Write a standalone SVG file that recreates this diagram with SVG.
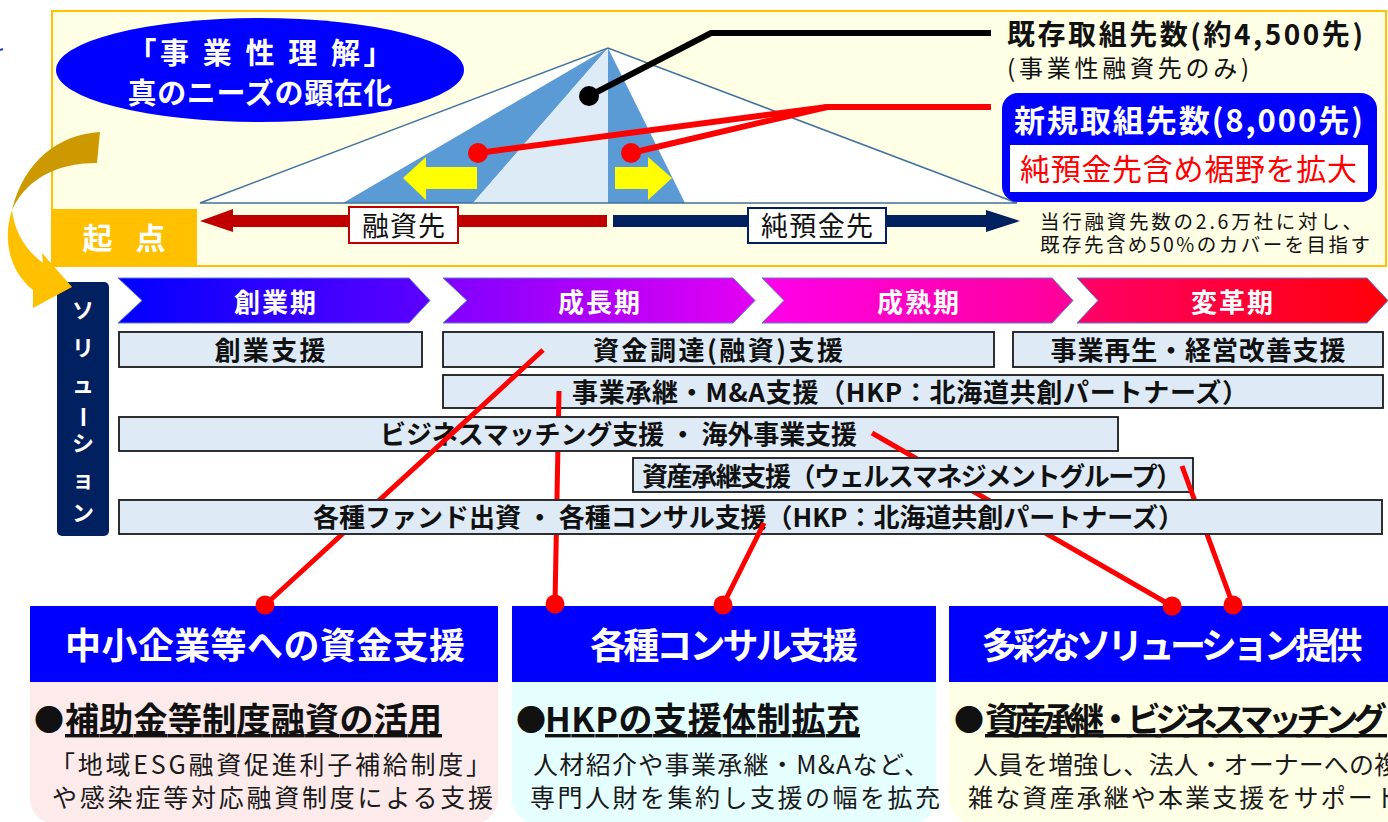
<svg xmlns="http://www.w3.org/2000/svg" width="1388" height="822" viewBox="0 0 1388 822">
<defs>
<style>
text { font-family: "Noto Sans CJK JP", "Noto Sans", sans-serif; fill: #111; }
.b { font-weight: 700; }
.w { fill: #fff; }
.mid { text-anchor: middle; }
.sol rect { fill: #DEEBF7; stroke: #1a1a1a; stroke-width: 1.8; }
.sol text { font-weight: 700; font-size: 26px; fill: #111; }
.phase polygon { stroke: #5B7FD0; stroke-width: 1; }
.phase text { font-weight: 700; font-size: 26px; fill: #fff; text-anchor: middle; }
.hdr { fill: #0000FF; }
.hdr-t { font-weight: 700; font-size: 36px; fill: #fff; text-anchor: middle; }
.ttl { font-weight: 700; font-size: 34px; }
.bul { font-size: 30px; }
.body { font-size: 25px; fill: #1a1a1a; }
.conn { stroke: #FF0000; stroke-width: 5; fill: none; }
.lead { stroke-width: 6; fill: none; }
.dot { fill: #FF0000; }
.vt { font-weight: 700; font-size: 22px; fill: #fff; text-anchor: middle; }
</style>
<linearGradient id="g1" x1="0" y1="0" x2="1" y2="0"><stop offset="0" stop-color="#0000FF"/><stop offset="1" stop-color="#5E00FF"/></linearGradient>
<linearGradient id="g2" x1="0" y1="0" x2="1" y2="0"><stop offset="0" stop-color="#8000FF"/><stop offset="1" stop-color="#E400F2"/></linearGradient>
<linearGradient id="g3" x1="0" y1="0" x2="1" y2="0"><stop offset="0" stop-color="#FF00EA"/><stop offset="1" stop-color="#FF0098"/></linearGradient>
<linearGradient id="g4" x1="0" y1="0" x2="1" y2="0"><stop offset="0" stop-color="#FF0068"/><stop offset="1" stop-color="#FF0008"/></linearGradient>
<mask id="mA" maskUnits="userSpaceOnUse" x="0" y="0" width="1388" height="822">
<rect x="0" y="0" width="1388" height="822" fill="#fff"/>
<rect x="118" y="499" width="1266" height="36" fill="#000"/>
</mask>
<mask id="mB" maskUnits="userSpaceOnUse" x="0" y="0" width="1388" height="822">
<rect x="0" y="0" width="1388" height="822" fill="#fff"/>
<rect x="118" y="416" width="1002" height="36" fill="#000"/>
<rect x="118" y="499" width="1266" height="36" fill="#000"/>
</mask>
<mask id="mD" maskUnits="userSpaceOnUse" x="0" y="0" width="1388" height="822">
<rect x="0" y="0" width="1388" height="822" fill="#fff"/>
<rect x="632" y="457" width="562" height="36" fill="#000"/>
<rect x="118" y="499" width="1266" height="36" fill="#000"/>
</mask>
</defs>

<rect x="0" y="0" width="1388" height="822" fill="#fff"/>
<path d="M0,50 L3,49" stroke="#2040C0" stroke-width="2"/>

<!-- Top panel -->
<g id="panel">
<rect x="52" y="11" width="1334" height="255" fill="#FFFFE5" stroke="#FFC000" stroke-width="2"/>
</g>

<g id="pyramid">
<polygon points="200,203 608,48 1017,203" fill="#fff"/>
<polygon points="343,203 608,48 473,203" fill="#5B9BD5"/>
<polygon points="473,203 608,48 608,203" fill="#DDEBF7"/>
<polygon points="608,203 608,48 685,203" fill="#5B9BD5"/>
<polygon points="200,203 608,48 1017,203" fill="none" stroke="#41719C" stroke-width="1.5"/>
<polygon points="403,178 426,157 426,167 477,167 477,189 426,189 426,200" fill="#FFFF00"/>
<polygon points="615,167 648,167 648,157 672,178 648,200 648,189 615,189" fill="#FFFF00"/>
</g>

<g id="kiten">
<rect x="52" y="209" width="145" height="57" fill="#FFC000"/>
<text x="124" y="249" class="b w mid" font-size="30" textLength="83">起 点</text>
</g>

<g id="ellipse-node">
<ellipse cx="260" cy="70" rx="204" ry="52" fill="#0000FF"/>
<text x="260" y="64" class="b w mid" font-size="29" textLength="265">「事 業 性 理 解」</text>
<text x="260" y="103.5" class="b w mid" font-size="29" textLength="265">真のニーズの顕在化</text>
</g>

<g id="axis-left">
<polygon points="607,215 233,215 233,209 200,221 233,232 233,227 607,227" fill="#C00000"/>
<rect x="349" y="207" width="109" height="36" fill="#fff" stroke="#C00000" stroke-width="2"/>
<text x="403.5" y="235.5" class="mid" font-size="27" textLength="83">融資先</text>
</g>

<g id="axis-right">
<polygon points="613,215 986,215 986,210 1020,221 986,232 986,227 613,227" fill="#002060"/>
<rect x="748" y="208" width="138" height="35" fill="#fff" stroke="#002060" stroke-width="2"/>
<text x="817" y="235.5" class="mid" font-size="27" textLength="112">純預金先</text>
</g>

<g id="existing-label">
<text x="1007" y="45" class="b" font-size="28" textLength="356">既存取組先数(約4,500先)</text>
<text x="1007" y="77" font-size="24" textLength="242">(事業性融資先のみ)</text>
</g>

<g id="new-label">
<rect x="1002" y="93" width="375" height="109" rx="16" fill="#0000FF"/>
<text x="1014" y="132" class="b w" font-size="31" textLength="349">新規取組先数(8,000先)</text>
<rect x="1010" y="145" width="358" height="47" fill="#fff"/>
<text x="1020" y="180" font-size="30" style="fill:#FF0000" textLength="337">純預金先含め裾野を拡大</text>
</g>

<g id="note">
<text x="1040" y="229" font-size="19.5" textLength="322">当行融資先数の2.6万社に対し、</text>
<text x="1040" y="252" font-size="19.5" textLength="330">既存先含め50%のカバーを目指す</text>
</g>

<!-- Phases -->
<g id="phase-sogyo" class="phase">
<polygon points="118,278 409,278 430,300.5 409,323 118,323 142,300.5" fill="url(#g1)"/>
<text x="275" y="312" textLength="82">創業期</text>
</g>
<g id="phase-seicho" class="phase">
<polygon points="443,278 733,278 755,300.5 733,323 443,323 467,300.5" fill="url(#g2)"/>
<text x="599" y="312" textLength="82">成長期</text>
</g>
<g id="phase-seijuku" class="phase">
<polygon points="762,278 1052,278 1073,300.5 1052,323 762,323 784,300.5" fill="url(#g3)"/>
<text x="918" y="312" textLength="82">成熟期</text>
</g>
<g id="phase-henkaku" class="phase">
<polygon points="1077,278 1367,278 1388,300.5 1367,323 1077,323 1098,300.5" fill="url(#g4)"/>
<text x="1232" y="312" textLength="82">変革期</text>
</g>

<!-- Solution bar -->
<g id="solution-bar">
<rect x="57" y="282" width="52" height="254" rx="5" fill="#002060"/>
<text x="83" y="318" class="vt">ソ</text>
<text x="83" y="356" class="vt">リ</text>
<text x="83" y="392" class="vt">ュ</text>
<text x="83" y="425" class="vt" transform="rotate(90 83 417)">ー</text>
<text x="83" y="451" class="vt">シ</text>
<text x="83" y="487" class="vt">ョ</text>
<text x="83" y="521" class="vt">ン</text>
</g>

<!-- Solution boxes -->
<g id="sol-sogyo" class="sol">
<rect x="119" y="332" width="303" height="35"/>
<text x="270" y="360" text-anchor="middle" textLength="111">創業支援</text>
</g>
<g id="sol-shikin" class="sol">
<rect x="443" y="332" width="551" height="35"/>
<text x="718" y="360" text-anchor="middle" textLength="250">資金調達(融資)支援</text>
</g>
<g id="sol-saisei" class="sol">
<rect x="1013" y="332" width="370" height="35"/>
<text x="1198" y="360" text-anchor="middle" textLength="295">事業再生・経営改善支援</text>
</g>
<g id="sol-shokei" class="sol">
<rect x="443" y="375" width="940" height="33"/>
<text x="572" y="401.5" textLength="676">事業承継・M&amp;A支援（HKP：北海道共創パートナーズ）</text>
</g>
<g id="sol-matching" class="sol">
<rect x="119" y="417" width="999" height="34"/>
<text x="380" y="444" textLength="477">ビジネスマッチング支援 ・ 海外事業支援</text>
</g>
<g id="sol-shisan" class="sol">
<rect x="633" y="458" width="560" height="34"/>
<text x="642" y="485.5" textLength="540">資産承継支援（ウェルスマネジメントグループ）</text>
</g>
<g id="sol-fund" class="sol">
<rect x="119" y="500" width="1263" height="34"/>
<text x="313" y="527" textLength="871">各種ファンド出資 ・ 各種コンサル支援（HKP：北海道共創パートナーズ）</text>
</g>

<!-- Bottom boxes -->
<g id="box-shikin">
<rect x="30" y="640" width="468" height="183" rx="24" fill="#FDEBEB"/>
<rect x="30" y="606" width="468" height="76" class="hdr"/>
<text x="265" y="658.5" class="hdr-t" textLength="400">中小企業等への資金支援</text>
<text x="34" y="731" class="bul">●</text>
<text x="65" y="732" class="ttl" textLength="377" text-decoration="underline">補助金等制度融資の活用</text>
<text x="50" y="774" class="body" textLength="441">「地域ESG融資促進利子補給制度」</text>
<text x="52" y="807" class="body" textLength="441">や感染症等対応融資制度による支援</text>
</g>

<g id="box-consul">
<rect x="512" y="640" width="424" height="183" rx="24" fill="#E5FFFF"/>
<rect x="512" y="606" width="424" height="76" class="hdr"/>
<text x="724" y="658.5" class="hdr-t" textLength="268">各種コンサル支援</text>
<text x="516" y="731" class="bul">●</text>
<text x="545" y="732" class="ttl" textLength="315" text-decoration="underline">HKPの支援体制拡充</text>
<text x="533" y="774" class="body" textLength="396">人材紹介や事業承継・M&amp;Aなど、</text>
<text x="530" y="807" class="body" textLength="410">専門人財を集約し支援の幅を拡充</text>
</g>

<g id="box-solution">
<rect x="949" y="640" width="480" height="183" rx="24" fill="#FFFFE5"/>
<rect x="949" y="606" width="460" height="76" class="hdr"/>
<text x="1172" y="658.5" class="hdr-t" textLength="381">多彩なソリューション提供</text>
<text x="954" y="731" class="bul">●</text>
<text x="985" y="732" class="ttl" textLength="402" text-decoration="underline">資産承継・ビジネスマッチング</text>
<text x="973" y="774" class="body" textLength="426">人員を増強し、法人・オーナーへの複</text>
<text x="968" y="807" class="body" textLength="432">雑な資産承継や本業支援をサポート</text>
</g>

<!-- Connectors -->
<g id="connectors">
<path d="M100,132 C60,134 24,160 12,210 C26,180 55,163 97,163 Z" fill="#CC9A00"/>
<path d="M12,210 C2,240 10,272 33,290 L33,308 L72,287 L42,253 L43,263 C28,252 15,235 12,210 Z" fill="#FFC000"/>
<polyline class="lead" stroke="#000" points="589,96 711,33 991,33"/>
<circle cx="589" cy="96" r="10" fill="#000"/>
<polyline class="lead" stroke="#FF0000" points="478,153 827,107 991,107"/>
<line class="lead" stroke="#FF0000" x1="631" y1="153" x2="827" y2="107"/>
<circle cx="478" cy="153" r="10" class="dot"/>
<circle cx="631" cy="153" r="10" class="dot"/>
<line class="conn" x1="543" y1="350" x2="265" y2="605" mask="url(#mA)"/>
<line class="conn" x1="559" y1="391" x2="555" y2="604" mask="url(#mB)"/>
<line class="conn" x1="764" y1="523" x2="723" y2="605"/>
<line class="conn" x1="872" y1="433" x2="1172" y2="606" mask="url(#mD)"/>
<line class="conn" x1="1182" y1="466" x2="1233" y2="605" mask="url(#mA)"/>
<circle cx="265" cy="605" r="9.5" class="dot"/>
<circle cx="555" cy="604" r="9.5" class="dot"/>
<circle cx="723" cy="605" r="9.5" class="dot"/>
<circle cx="1172" cy="606" r="9.5" class="dot"/>
<circle cx="1233" cy="605" r="9.5" class="dot"/>
</g>
</svg>
